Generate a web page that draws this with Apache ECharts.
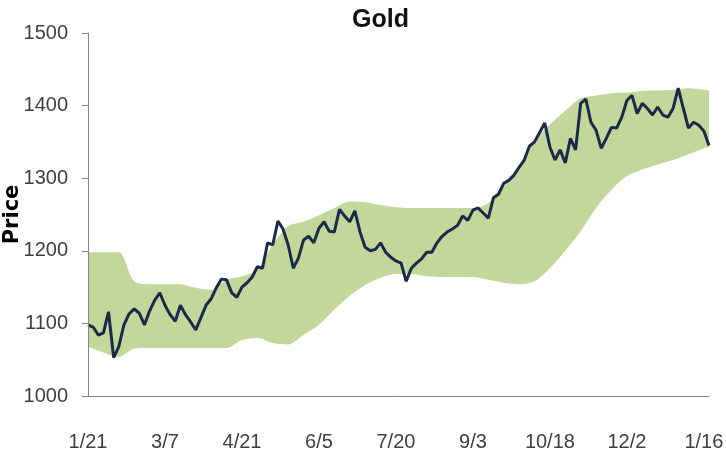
<!DOCTYPE html>
<html>
<head>
<meta charset="utf-8">
<script src="https://cdn.jsdelivr.net/npm/echarts@6/dist/echarts.min.js"></script>
<style>html,body{margin:0;padding:0;background:#fff}#c{width:726px;height:454px}</style>
</head>
<body>
<div id="c"></div>
<script>
// x-axis tick labels (every 45 days, starting 1/21)
const tickLabels = ['1/21','3/7','4/21','6/5','7/20','9/3','10/18','12/2','1/16'];
const tickStepDays = 45;

// Gold price, sampled every 3 days from 1/21
const priceStepDays = 3;
const price = [1098,1095,1084,1087,1116,1053,1068,1098,1113,1120,1114,1098,1117,1132,1142,1125,1112,1103,1125,1112,
  1102,1091,1108,1125,1134,1149,1161,1160,1142,1136,1150,1156,1164,1178,1176,1211,1208,1241,1230,1208,
  1176,1190,1215,1220,1211,1231,1240,1227,1226,1257,1248,1240,1255,1226,1205,1200,1202,1211,1198,1191,
  1186,1183,1158,1176,1183,1189,1198,1198,1211,1220,1226,1230,1235,1248,1242,1256,1259,1252,1245,1273,
  1278,1293,1297,1304,1315,1325,1344,1350,1363,1376,1343,1325,1339,1321,1355,1339,1403,1409,1377,1366,
  1341,1355,1370,1369,1384,1407,1414,1389,1403,1396,1387,1398,1387,1384,1396,1424,1396,1369,1377,1373,
  1365,1345];

// Band (upper / lower), sampled at these day offsets
const bandDays = [0,9,18,27,36,45,54,63,72,81,90,99,108,117,126,135,144,153,162,171,180,189,198,207,216,225,234,243,252,261,270,279,288,297,306,315,324,333,342,351,360,363];
const bandUpper = [1198,1198,1198,1158,1154,1154,1154,1149,1146,1160,1165,1174,1208,1234,1240,1249,1259,1268,1267,1263,
  1260,1259,1259,1259,1259,1259,1266,1293,1318,1352,1374,1393,1410,1414,1417,1418,1420,1421,1422,1424,1422,1421];
const bandLower = [1068,1060,1054,1065,1066,1066,1066,1066,1066,1066,1077,1080,1073,1071,1084,1098,1119,1138,1153,1163,
  1168,1168,1165,1164,1164,1164,1160,1156,1154,1158,1176,1200,1227,1259,1284,1303,1312,1319,1325,1333,1341,1343];

const priceData = price.map((v, i) => [i * priceStepDays, v]);
const upperData = bandUpper.map((v, i) => [bandDays[i], v]);
const lowerData = bandLower.map((v, i) => [bandDays[i], v]);

const chart = echarts.init(document.getElementById('c'), null, {renderer: 'canvas'});
const font = '"Liberation Sans", Arial, sans-serif';
chart.setOption({
  animation: false,
  backgroundColor: '#ffffff',
  title: {
    text: 'Gold',
    left: 347, top: 3,
    textStyle: {fontFamily: font, fontSize: 25, fontWeight: 'bold', color: '#111'}
  },
  grid: {left: 88, right: 17, top: 33, bottom: 58, outerBoundsMode: 'none', containLabel: false},
  xAxis: {
    type: 'value',
    min: 0, max: 363, interval: tickStepDays,
    z: 10,
    axisLine: {show: true, lineStyle: {color: '#868686', width: 1}},
    axisTick: {show: false},
    splitLine: {show: false},
    axisLabel: {
      margin: 36,
      color: '#404040',
      fontFamily: font,
      fontSize: 20,
      showMaxLabel: false,
      formatter: v => {
        const k = v / tickStepDays;
        return Number.isInteger(k) && tickLabels[k] ? tickLabels[k] : '';
      }
    }
  },
  yAxis: {
    type: 'value',
    min: 1000, max: 1500, interval: 100,
    z: 10,
    name: 'Price',
    nameLocation: 'middle',
    nameGap: 65,
    nameMoveOverlap: false,
    nameTextStyle: {fontFamily: '"DejaVu Sans", Verdana, sans-serif', fontWeight: 'bold', fontSize: 21, color: '#000'},
    axisLine: {show: true, lineStyle: {color: '#868686', width: 1}},
    axisTick: {show: true, length: 6, lineStyle: {color: '#868686'}},
    splitLine: {show: false},
    axisLabel: {margin: 20, color: '#404040', fontFamily: font, fontSize: 20, formatter: v => String(v)}
  },
  series: [
    {
      type: 'line', data: upperData, showSymbol: false, smooth: 0.3,
      lineStyle: {opacity: 0, width: 0},
      areaStyle: {color: '#c4d79b', opacity: 1, origin: 'start'}, silent: true, z: 1
    },
    {
      type: 'line', data: lowerData, showSymbol: false, smooth: 0.3,
      lineStyle: {opacity: 0, width: 0},
      areaStyle: {color: '#ffffff', opacity: 1, origin: 'start'}, silent: true, z: 2
    },
    {
      type: 'line', data: priceData, showSymbol: false,
      lineStyle: {color: '#1b2a4a', width: 3}, z: 3
    }
  ]
});
</script>
</body>
</html>
